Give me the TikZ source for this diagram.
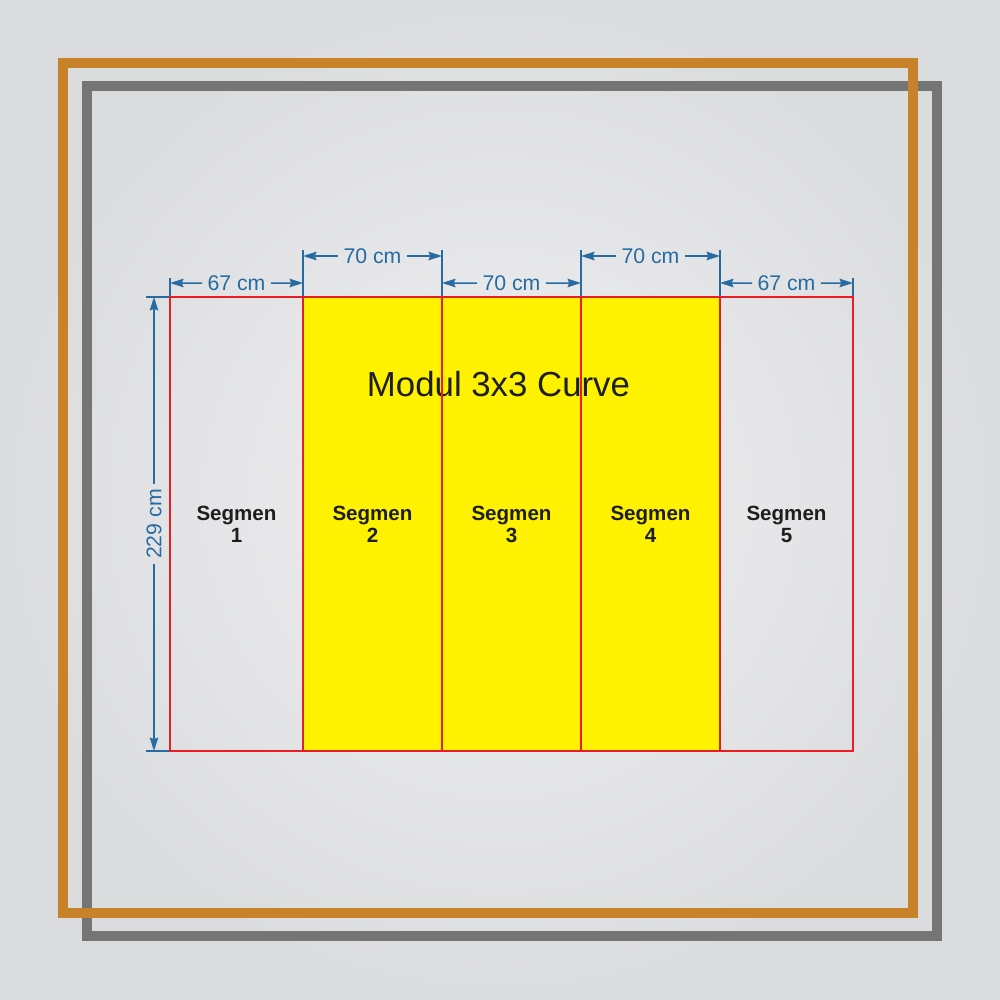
\documentclass[tikz,border=0pt]{standalone}
\usepackage{fontspec}
\setmainfont{Liberation Sans}
\usepackage{tikz}
\usetikzlibrary{arrows.meta,positioning,calc}
\definecolor{bgin}{RGB}{241,241,242}
\definecolor{bgout}{RGB}{219,220,222}
\definecolor{framegold}{RGB}{200,131,42}
\definecolor{framegray}{RGB}{117,117,117}
\definecolor{dimblue}{RGB}{38,108,162}
\definecolor{segred}{RGB}{232,30,36}
\definecolor{segyellow}{RGB}{255,242,0}
\definecolor{inkdark}{RGB}{30,30,30}
\tikzset{
    framebox/.style={line width=2mm},
    segment/.style={rectangle, inner sep=0pt, minimum height=90.8mm, text=inkdark, align=center, font=\bfseries\fontsize{11.7}{12.5}\selectfont},
    segline/.style={draw=segred, line width=0.35mm},
    dimline/.style={draw=dimblue, line width=0.3mm},
    dimarrow/.style={dimline, -{Stealth[length=2.7mm,width=1.7mm,inset=0.35mm]}},
    dimlabel/.style={text=dimblue, inner xsep=1mm, inner ysep=0pt, font=\fontsize{12.1}{14}\selectfont},
    title/.style={text=inkdark, inner sep=0pt, font=\fontsize{19.8}{22}\selectfont}
}
\begin{document}
\begin{tikzpicture}[x=0.2mm, y=-0.2mm]
    % Background
    \useasboundingbox (0,0) rectangle (1000,1000);
    \shade[inner color=bgin, outer color=bgout] (0,0) rectangle (1000,1000);

    % Frames
    \draw[framebox, draw=framegray] (87,86) rectangle (937,936);
    \draw[framebox, draw=framegold] (63,63) rectangle (913,913);

    % Segments
    \node[segment, minimum width=26.6mm] (seg1) at (236.5,524) {Segmen\\1};
    \node[segment, minimum width=27.8mm, fill=segyellow] (seg2) at (372.5,524) {Segmen\\2};
    \node[segment, minimum width=27.8mm, fill=segyellow] (seg3) at (511.5,524) {Segmen\\3};
    \node[segment, minimum width=27.8mm, fill=segyellow] (seg4) at (650.5,524) {Segmen\\4};
    \node[segment, minimum width=26.6mm] (seg5) at (786.5,524) {Segmen\\5};

    % Title
    \node[title] (modul) at (498.5,384) {Modul 3x3 Curve};

    % Segment borders
    \foreach \s in {seg1,seg2,seg3,seg4,seg5} {
        \draw[segline] (\s.north west) rectangle (\s.south east);
    }

    % Extension lines
    \foreach \x/\top in {170/278, 303/250, 442/250, 581/250, 720/250, 853/278} {
        \draw[dimline] (\x,\top) -- (\x,296);
    }
    \draw[dimline] (146,297) -- (169,297);
    \draw[dimline] (146,751) -- (169,751);

    % Width dimensions
    \foreach \n/\a/\b/\y/\t in {w1/170/303/283/67, w2/303/442/256/70, w3/442/581/283/70, w4/581/720/256/70, w5/720/853/283/67} {
        \coordinate (\n l) at (\a,\y);
        \coordinate (\n r) at (\b,\y);
        \node[dimlabel] (\n) at ($(\n l)!0.5!(\n r)$) {\t\ cm};
        \draw[dimarrow] (\n.west) -- (\n l);
        \draw[dimarrow] (\n.east) -- (\n r);
    }

    % Height dimension
    \coordinate (htop) at (154,297);
    \coordinate (hbot) at (154,751);
    \node[dimlabel, rotate=90] (h1) at ($(htop)!0.5!(hbot)$) {229 cm};
    \draw[dimarrow] (h1.east) -- (htop);
    \draw[dimarrow] (h1.west) -- (hbot);
\end{tikzpicture}
\end{document}
